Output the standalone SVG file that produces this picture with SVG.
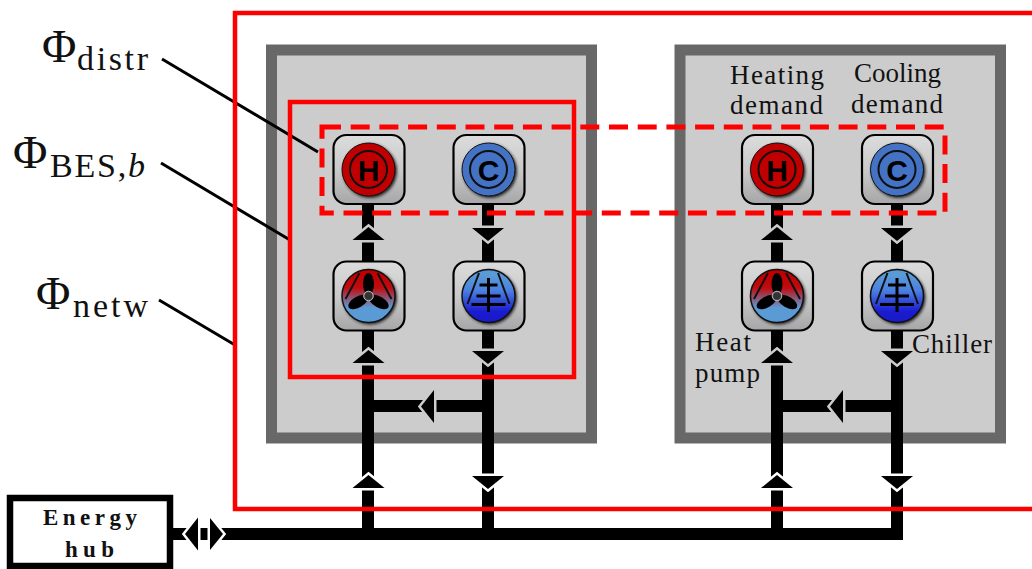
<svg xmlns="http://www.w3.org/2000/svg" width="1032" height="569" viewBox="0 0 1032 569">
<style>
text{font-family:"Liberation Serif","Times New Roman",serif;fill:#111}
.lab{font-size:27px}
.phi{font-size:47px}
.sub{font-size:34px}
.hub{font-size:23px;font-weight:bold}
.frame{fill:#ccc;stroke:#686868;stroke-width:11}
.red{fill:none;stroke:#f00;stroke-width:4.5}
.dash{fill:none;stroke:#f00;stroke-width:5;stroke-dasharray:19 9.7}
.pipe{fill:none;stroke:#000;stroke-width:12}
.lead{fill:none;stroke:#000;stroke-width:3}
.tile{fill:url(#tile);stroke:#000;stroke-width:2.2}
.ln{fill:none;stroke:#111;stroke-width:2}
.ln3{fill:none;stroke:#000;stroke-width:3}
.ah{fill:#000;stroke:currentColor;stroke-width:5;paint-order:stroke;stroke-miterlimit:3}
.letter{font-family:"Liberation Sans",Arial,sans-serif;font-weight:bold;font-size:30px;fill:#000;text-anchor:middle}
</style>
<defs>
<linearGradient id="tile" x1="0" y1="0" x2="0" y2="1"><stop offset="0" stop-color="#dcdcdc"/><stop offset="0.5" stop-color="#cacaca"/><stop offset="1" stop-color="#a6a6a8"/></linearGradient>
<linearGradient id="hp" x1="0" y1="0" x2="0" y2="1"><stop offset="0.1" stop-color="#c00000"/><stop offset="0.35" stop-color="#c00c10"/><stop offset="0.72" stop-color="#5b9bd5"/><stop offset="1" stop-color="#5b9bd5"/></linearGradient>
<linearGradient id="ch" x1="0" y1="0" x2="0" y2="1"><stop offset="0.1" stop-color="#5b9bd5"/><stop offset="0.4" stop-color="#4a80e0"/><stop offset="0.8" stop-color="#1a1ad0"/><stop offset="1" stop-color="#1a1ac8"/></linearGradient>
<filter id="sh" x="-30%" y="-30%" width="160%" height="160%"><feGaussianBlur stdDeviation="1.6"/></filter>
<g id="base"><rect class="tile" x="-35" y="-34.5" width="71" height="69" rx="13"/><circle cx="1.5" cy="1.5" r="27" fill="#222" filter="url(#sh)"/></g>
<g id="iH"><use href="#base"/><circle r="26.5" fill="#c00000" stroke="#111" stroke-width="1"/><circle r="18.5" fill="none" stroke="#111" stroke-width="2"/><text class="letter" y="11">H</text></g>
<g id="iC"><use href="#base"/><circle r="26.5" fill="#4472c4" stroke="#111" stroke-width="1"/><circle r="18.5" fill="none" stroke="#111" stroke-width="2"/><text class="letter" y="11">C</text></g>
<g id="iP"><use href="#base"/><circle r="26.5" fill="url(#hp)" stroke="#111" stroke-width="1.5"/>
<path class="ln" d="M-9,-23L-23,3M9,-23L23,3"/>
<g fill="#000"><ellipse cy="-12" rx="5.5" ry="11"/><ellipse cy="-12" rx="5.5" ry="11" transform="rotate(120)"/><ellipse cy="-12" rx="5.5" ry="11" transform="rotate(240)"/></g>
<circle r="4.8" fill="#555" stroke="#bbb" stroke-width="1"/><circle r="3.6" fill="#333"/></g>
<g id="iK"><use href="#base"/><circle r="26.5" fill="url(#ch)" stroke="#111" stroke-width="1.5"/>
<path class="ln" d="M-9.5,-23L-21,8M9.5,-23L21,8"/>
<path class="ln3" d="M0,-18V16M-9,-11H9M-12,0H12M-17,8.500H17"/></g>
<polygon id="au" class="ah" points="0,0 16,13 -16,13"/>
<polygon id="ad" class="ah" points="0,0 16,-13 -16,-13"/>
<polygon id="al" class="ah" points="0,0 13,-16.500 13,16.500"/>
<polygon id="ar" class="ah" points="0,0 -13,-16 -13,16"/>
</defs>

<rect width="1032" height="569" fill="#fff"/>
<g id="building-1"><rect class="frame" x="271.500" y="50" width="320" height="388"/></g>
<g id="building-2"><rect class="frame" x="680" y="50" width="320.500" height="388"/></g>

<g id="connectors">
<path class="pipe" d="M368,205V534M488,205V534M368,406H488M777,205V534M897,205V534M777,406H897M172,534H903"/>
<g color="#ccc">
<use href="#au" x="368.500" y="227"/><use href="#ad" x="488" y="241"/>
<use href="#au" x="368.500" y="350"/><use href="#ad" x="488" y="364"/>
<use href="#al" x="421" y="406.500"/>
<use href="#au" x="777" y="227"/><use href="#ad" x="897" y="241"/>
<use href="#au" x="777" y="350"/><use href="#ad" x="897" y="364"/>
<use href="#al" x="830" y="406.500"/>
</g>
<g color="#fff">
<use href="#au" x="368.500" y="475"/><use href="#ad" x="488" y="489"/>
<use href="#au" x="777" y="475"/><use href="#ad" x="897" y="489"/>
<use href="#al" x="185" y="534"/><use href="#ar" x="223" y="534"/>
</g>
<rect x="201" y="528" width="6" height="12" fill="#000"/>
<path class="lead" d="M162,59L318,152M161,163L290,240M159,300L235,345"/>
</g>

<g id="heat-demand-1"><use href="#iH" x="368.500" y="169.500"/></g>
<g id="cool-demand-1"><use href="#iC" x="488.500" y="169.500"/></g>
<g id="heat-pump-1"><use href="#iP" x="368.500" y="296"/></g>
<g id="chiller-1"><use href="#iK" x="488.500" y="296"/></g>
<g id="heat-demand-2"><use href="#iH" x="777" y="169.500"/></g>
<g id="cool-demand-2"><use href="#iC" x="897" y="169.500"/></g>
<g id="heat-pump-2"><use href="#iP" x="777" y="296"/></g>
<g id="chiller-2"><use href="#iK" x="897" y="296"/></g>

<g id="boundaries">
<rect class="red" x="235" y="13" width="800" height="496"/>
<rect class="red" x="290" y="102" width="284" height="275"/>
<rect class="dash" x="322" y="127" width="623" height="86"/>
</g>

<g id="energy-hub"><rect x="10" y="498" width="160" height="68" fill="#fff" stroke="#000" stroke-width="6.500"/>
<text class="hub" x="43" y="525" textLength="94">Energy</text><text class="hub" x="65" y="557" textLength="49">hub</text></g>

<g id="labels">
<text class="lab" x="730" y="84" textLength="94">Heating</text>
<text class="lab" x="730" y="114" textLength="93">demand</text>
<text class="lab" x="854" y="82" textLength="87">Cooling</text>
<text class="lab" x="851" y="113" textLength="92">demand</text>
<text class="lab" x="695" y="351" textLength="56">Heat</text>
<text class="lab" x="695" y="382" textLength="65">pump</text>
<text class="lab" x="912" y="353" textLength="80">Chiller</text>
<text class="phi" x="42" y="62">Φ</text><text class="sub" x="77" y="70" textLength="71">distr</text>
<text class="phi" x="13" y="168">Φ</text><text class="sub" x="50" y="177" textLength="95">BES,<tspan font-style="italic">b</tspan></text>
<text class="phi" x="36" y="309">Φ</text><text class="sub" x="73" y="317" textLength="75">netw</text>
</g>
</svg>
